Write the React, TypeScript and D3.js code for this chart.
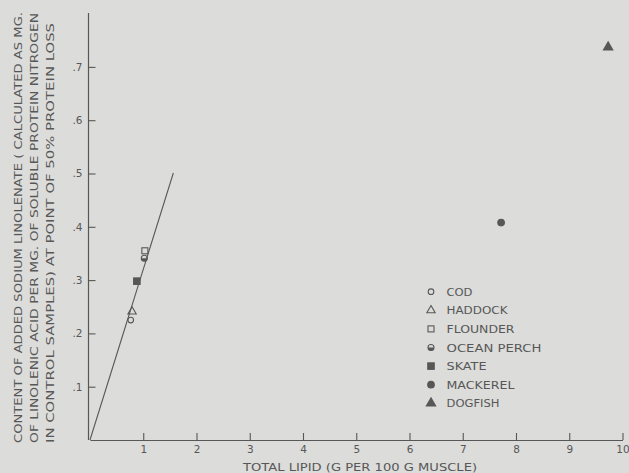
import React, { useEffect, useRef } from "react";
import * as d3 from "d3";

// species plotted (total lipid g/100g, mg linolenate per mg soluble N)
const species = ["COD", "HADDOCK", "FLOUNDER", "OCEAN PERCH", "SKATE", "MACKEREL", "DOGFISH"];
const lipid = [0.765, 0.79, 1.03, 1.02, 0.88, 7.72, 9.73];
const linolenate = [0.225, 0.241, 0.355, 0.341, 0.298, 0.408, 0.737];
const symbols = ["circleOpen", "triangleOpen", "squareOpen", "circleHalf", "square", "circle", "triangle"];

// fitted line through the lean fish
const lineX = [0, 1.565];
const lineY = [0, 0.501];

const xTicks = [1, 2, 3, 4, 5, 6, 7, 8, 9, 10];
const yTicks = [0.1, 0.2, 0.3, 0.4, 0.5, 0.6, 0.7];
const xTickLabels = ["1", "2", "3", "4", "5", "6", "7", "8", "9", "10"];
const yTickLabels = [".1", ".2", ".3", ".4", ".5", ".6", ".7"];

const yTitleLines = [
  "CONTENT OF ADDED SODIUM LINOLENATE ( CALCULATED AS MG.",
  "OF LINOLENIC ACID PER MG. OF SOLUBLE PROTEIN NITROGEN",
  "IN CONTROL SAMPLES) AT POINT OF 50% PROTEIN LOSS",
];
const xTitle = "TOTAL LIPID (G PER 100 G MUSCLE)";

const W = 629;
const H = 473;
const INK = "#575757";
const FONT = "'DejaVu Sans', sans-serif";

const App = () => {
  const svgRef = useRef<SVGSVGElement>(null);

  useEffect(() => {
    const svg = d3.select(svgRef.current);
    svg.selectAll("*").remove();

    const x = d3.scaleLinear().domain([0, 10]).range([90, 622.5]);
    const y = d3.scaleLinear().domain([0, 0.7]).range([440, 66.9]);

    svg.append("rect").attr("width", W).attr("height", H).attr("fill", "#dcdcda");

    // axes
    const xAxis = d3.axisBottom(x)
      .tickValues(xTicks)
      .tickSizeInner(-7)
      .tickSizeOuter(0)
      .tickPadding(4)
      .tickFormat((d, i) => xTickLabels[i]);
    const gx = svg.append("g")
      .attr("transform", `translate(0,${y(0)})`)
      .call(xAxis);
    gx.select(".domain").attr("stroke", INK).attr("stroke-width", 1.2);
    gx.selectAll(".tick line").attr("stroke", INK).attr("stroke-width", 1.1);
    gx.selectAll(".tick text")
      .attr("fill", INK)
      .attr("font-family", FONT)
      .attr("font-size", 10.5)
      .attr("dy", "0.9em");

    const yAxis = d3.axisLeft(y)
      .tickValues(yTicks)
      .tickSizeInner(-7)
      .tickSizeOuter(0)
      .tickPadding(6)
      .tickFormat((d, i) => yTickLabels[i]);
    const gy = svg.append("g")
      .attr("transform", `translate(${x(0) - 1.5},0)`)
      .call(yAxis);
    gy.select(".domain").remove();
    gy.append("line")
      .attr("y1", y(0))
      .attr("y2", 13)
      .attr("stroke", INK)
      .attr("stroke-width", 1.2);
    gy.selectAll(".tick line").attr("stroke", INK).attr("stroke-width", 1.1);
    gy.selectAll(".tick text")
      .attr("fill", INK)
      .attr("font-family", FONT)
      .attr("font-size", 10.5);

    // fitted line
    const line = d3.line<number>()
      .x((d, i) => x(lineX[i]))
      .y((d, i) => y(d));
    svg.append("path")
      .attr("d", line(lineY))
      .attr("fill", "none")
      .attr("stroke", INK)
      .attr("stroke-width", 1.1);

    // marker drawing
    const drawMarker = (g: any, kind: string, cx: number, cy: number) => {
      const open = kind.endsWith("Open");
      const fill = open ? "none" : INK;
      const stroke = INK;
      if (kind.startsWith("circleHalf")) {
        g.append("circle").attr("cx", cx).attr("cy", cy).attr("r", 3)
          .attr("fill", "none").attr("stroke", stroke).attr("stroke-width", 1.1);
        g.append("path")
          .attr("d", `M${cx - 3},${cy} A3,3 0 0 0 ${cx + 3},${cy} Z`)
          .attr("fill", INK);
      } else if (kind.startsWith("circle")) {
        g.append("circle").attr("cx", cx).attr("cy", cy).attr("r", open ? 2.8 : 3.3)
          .attr("fill", fill).attr("stroke", stroke).attr("stroke-width", 1.1);
      } else if (kind.startsWith("triangle")) {
        const s = d3.symbol(d3.symbolTriangle, open ? 30 : 38)();
        g.append("path").attr("d", s).attr("transform", `translate(${cx},${cy})`)
          .attr("fill", fill).attr("stroke", stroke).attr("stroke-width", 1.1);
      } else {
        const s = open ? 6 : 6.5;
        g.append("rect").attr("x", cx - s / 2).attr("y", cy - s / 2)
          .attr("width", s).attr("height", s)
          .attr("fill", fill).attr("stroke", stroke).attr("stroke-width", 1.1);
      }
    };

    const pts = svg.append("g");
    species.forEach((sp, i) => drawMarker(pts, symbols[i], x(lipid[i]), y(linolenate[i])));

    // legend
    const legendLens = [26, 61, 68, 95, 40, 68, 53];
    const lg = svg.append("g");
    species.forEach((sp, i) => {
      const ry = 291.7 + i * 18.6;
      drawMarker(lg, symbols[i], 431, ry);
      lg.append("text")
        .attr("x", 446.5)
        .attr("y", ry + 4)
        .attr("fill", INK)
        .attr("font-family", FONT)
        .attr("font-size", 11)
        .attr("textLength", legendLens[i])
        .attr("lengthAdjust", "spacingAndGlyphs")
        .text(sp);
    });

    // axis titles
    svg.append("text")
      .attr("x", 243)
      .attr("y", 470.5)
      .attr("fill", INK)
      .attr("font-family", FONT)
      .attr("font-size", 11)
      .attr("textLength", 234)
      .attr("lengthAdjust", "spacingAndGlyphs")
      .text(xTitle);

    const titleX = [22, 38, 54];
    const titleLen = [431, 430, 420];
    yTitleLines.forEach((t, i) => {
      svg.append("text")
        .attr("transform", `translate(${titleX[i]},443) rotate(-90)`)
        .attr("fill", INK)
        .attr("font-family", FONT)
        .attr("font-size", 11)
        .attr("textLength", titleLen[i])
        .attr("lengthAdjust", "spacingAndGlyphs")
        .text(t);
    });
  }, []);

  return (
    <svg
      ref={svgRef}
      width={W}
      height={H}
      style={{ position: "absolute", left: 0, top: 0, display: "block" }}
    />
  );
};

export default App;
